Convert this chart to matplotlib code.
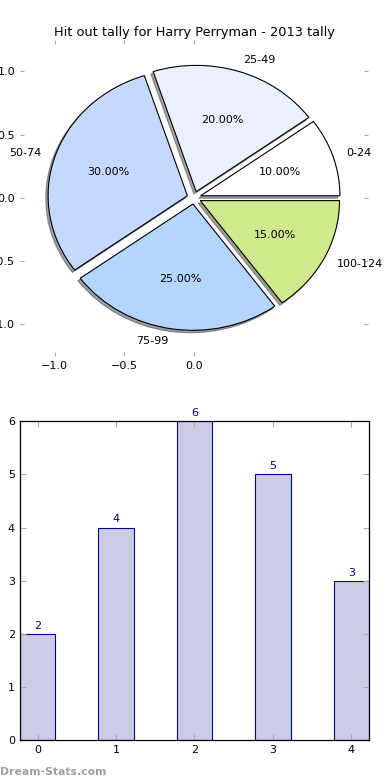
import matplotlib
matplotlib.use("Agg")
import matplotlib.pyplot as plt

# pie data
pie_labels = ["0-24", "25-49", "50-74", "75-99", "100-124"]
pie_values = [10, 20, 30, 25, 15]
pie_colors = ["#ffffff", "#eaf1fe", "#c5d9fe", "#b3d5fe", "#cfea8c"]

# bar data
bar_x = [0, 1, 2, 3, 4]
bar_values = [2, 4, 6, 5, 3]

title = "Hit out tally for Harry Perryman - 2013 tally"

fig = plt.figure(figsize=(3.9, 7.8), dpi=100)

# --- pie ---
ax1 = fig.add_axes([0.051, 0.544, 0.893, 0.405])
wedges, texts, autotexts = ax1.pie(
    pie_values,
    labels=pie_labels,
    colors=pie_colors,
    explode=[0.05] * len(pie_values),
    autopct="%.2f%%",
    shadow=dict(ox=-0.012, oy=-0.014),
    startangle=0,
    wedgeprops=dict(edgecolor="black", linewidth=0.8),
    textprops=dict(fontsize=8),
)
ax1.set_aspect("auto")
ax1.set_xlim(-1.25, 1.25)
ax1.set_ylim(-1.25, 1.25)
ax1.set_xticks([-1.0, -0.5, 0.0])
ax1.set_yticks([-1.0, -0.5, 0.0, 0.5, 1.0])
ax1.tick_params(direction="in", length=3, color="#aaaaaa", labelsize=8,
                top=True, right=True)
ax1.set_frame_on(False)
ax1.set_title(title, fontsize=9.3, pad=3)

# --- bars ---
ax2 = fig.add_axes([0.051, 0.051, 0.895, 0.409])
bars = ax2.bar(bar_x, bar_values, width=0.45, color="#cccce6",
               edgecolor="#000080", linewidth=0.8)
for b, v in zip(bars, bar_values):
    ax2.text(b.get_x() + b.get_width() / 2, v + 0.06, str(v),
             ha="center", va="bottom", fontsize=8, color="#000080")
ax2.set_xlim(-0.225, 4.225)
ax2.set_ylim(0, 6)
ax2.set_xticks(bar_x)
ax2.tick_params(direction="in", length=4, color="#aaaaaa", labelsize=8,
                top=True, right=True)
for s in ax2.spines.values():
    s.set_linewidth(0.9)

fig.text(0.0, 0.004, "Dream-Stats.com", fontsize=7.8, color="#a0a0a0",
         fontweight="bold", ha="left", va="bottom")

fig.savefig("out.png", dpi=100)
